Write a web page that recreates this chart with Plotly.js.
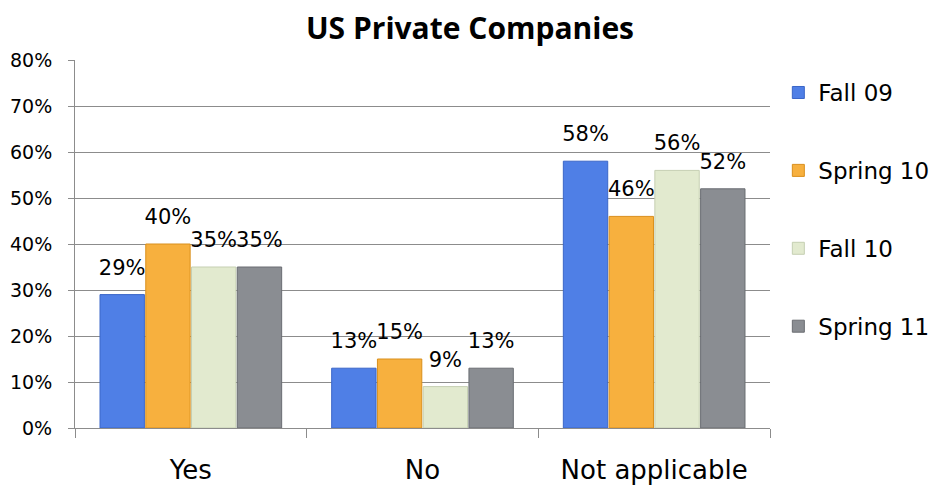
<!DOCTYPE html>
<html>
<head>
<meta charset="utf-8">
<script src="https://cdn.plot.ly/plotly-3.0.1.min.js"></script>
<style>html,body{margin:0;padding:0;background:#fff;}#chart{width:940px;height:486px;}</style>
</head>
<body>
<div id="chart"></div>
<script>
var categories = ["Yes", "No", "Not applicable"];
var seriesNames = ["Fall 09", "Spring 10", "Fall 10", "Spring 11"];
var fall09 = [29, 13, 58];
var spring10 = [40, 15, 46];
var fall10 = [35, 9, 56];
var spring11 = [35, 13, 52];
var yTicks = [0, 10, 20, 30, 40, 50, 60, 70, 80];
var yTickLabels = ["0%", "10%", "20%", "30%", "40%", "50%", "60%", "70%", "80%"];

var seriesValues = [fall09, spring10, fall10, spring11];
var colors = ["#4f7fe6", "#f7b03e", "#e2eacf", "#8a8d92"];
var lineColors = ["#3a66c8", "#d98f1c", "#c5cfb2", "#6a6d72"];
var GAP = 0.21;

var traces = [];
seriesValues.forEach(function (vals, i) {
  traces.push({
    type: "bar",
    name: seriesNames[i],
    x: categories,
    y: vals,
    legendgroup: "g" + i,
    marker: {color: colors[i], line: {color: lineColors[i], width: 1}},
    hoverinfo: "skip"
  });
});
seriesValues.forEach(function (vals, i) {
  traces.push({
    type: "scatter",
    mode: "markers+text",
    x: categories,
    y: vals,
    text: vals.map(function (v) { return v + "%"; }),
    textposition: "top center",
    textfont: {family: "DejaVu Sans", size: 21, color: "#000"},
    marker: {size: 22, opacity: 0},
    showlegend: false,
    hoverinfo: "skip",
    cliponaxis: false
  });
});

var layout = {
  width: 940, height: 486,
  margin: {l: 75, r: 170, t: 60, b: 58, autoexpand: false},
  paper_bgcolor: "#fff", plot_bgcolor: "#fff",
  font: {family: "DejaVu Sans", color: "#000"},
  barmode: "group", bargap: GAP, bargroupgap: 0.03,
  scattermode: "group", scattergap: GAP,
  title: {text: "<b>US Private Companies</b>", font: {family: "Open Sans", size: 30, color: "#000"},
          x: 0.5, xref: "container", y: 0.942, yref: "container", yanchor: "middle"},
  xaxis: {
    type: "category",
    showline: true, linecolor: "#8c8c8c", linewidth: 1,
    ticks: "outside", tickson: "boundaries", ticklen: 9, tickcolor: "#8c8c8c",
    tickfont: {family: "DejaVu Sans", size: 26, color: "#000"},
    ticklabelstandoff: 19,
    showgrid: false, zeroline: false
  },
  yaxis: {
    range: [0, 80],
    tickvals: yTicks, ticktext: yTickLabels,
    showline: true, linecolor: "#8c8c8c", linewidth: 1,
    ticks: "outside", ticklen: 6, tickcolor: "#8c8c8c",
    showgrid: true, gridcolor: "#8c8c8c", gridwidth: 1,
    zeroline: false,
    tickfont: {family: "DejaVu Sans", size: 19, color: "#000"},
    ticklabelstandoff: 12
  },
  legend: {
    x: 1.012, xanchor: "left", y: 0.97, yanchor: "top",
    font: {family: "DejaVu Sans", size: 23, color: "#000"},
    tracegroupgap: 45, itemwidth: 30,
    bgcolor: "rgba(0,0,0,0)"
  },
  showlegend: true
};

Plotly.newPlot("chart", traces, layout, {staticPlot: true, displayModeBar: false});
</script>
</body>
</html>
